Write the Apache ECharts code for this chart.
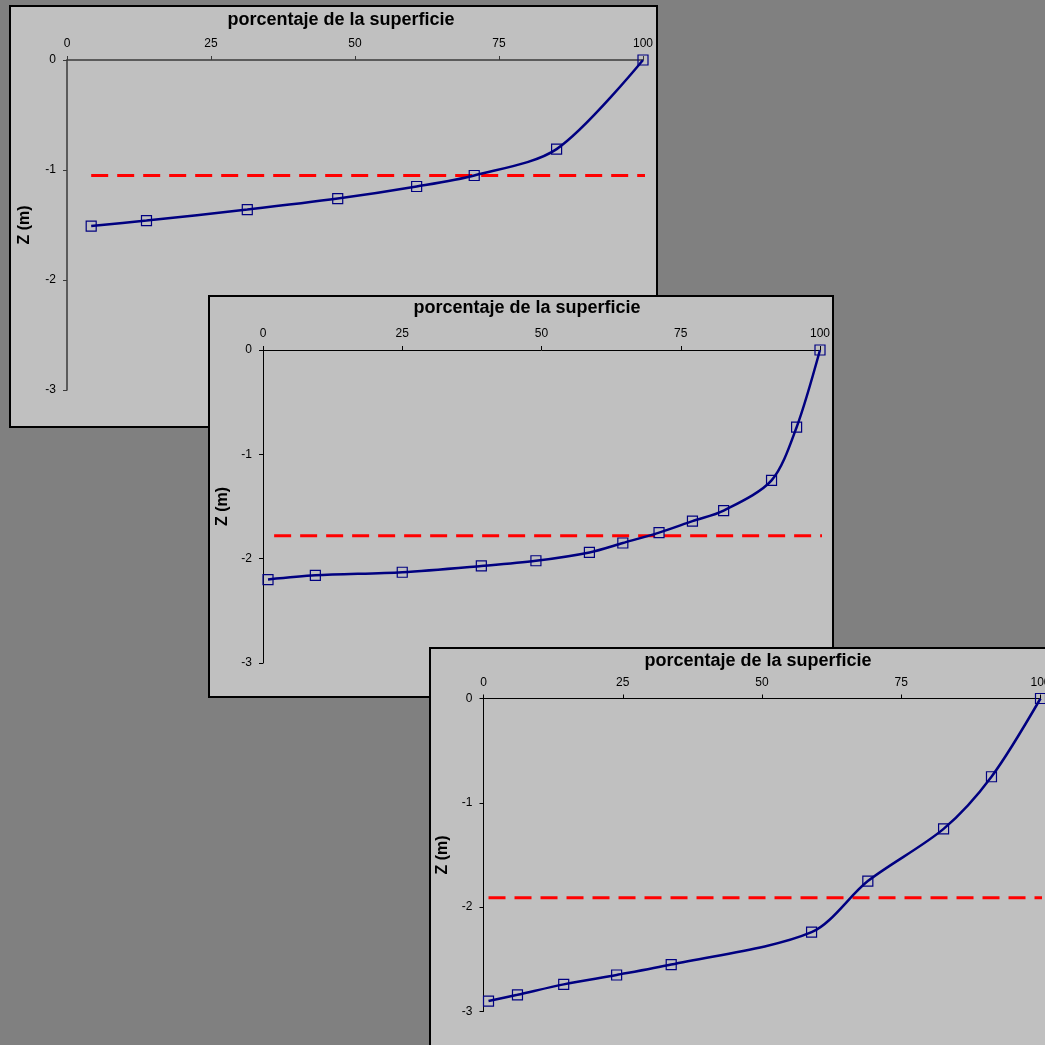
<!DOCTYPE html>
<html>
<head>
<meta charset="utf-8">
<script src="https://cdn.jsdelivr.net/npm/echarts@6/dist/echarts.min.js"></script>
<style>
html, body { margin: 0; padding: 0; width: 1045px; height: 1045px; overflow: hidden; background: #808080; }
.panel { position: absolute; box-sizing: border-box; border: 2px solid #000; background: #c0c0c0; }
.panel > div { width: 100%; height: 100%; }
</style>
</head>
<body>
<div class="panel" style="left:9px;top:5px;width:649px;height:423px"><div id="c1"></div></div>
<div class="panel" style="left:208px;top:295px;width:626px;height:403px"><div id="c2"></div></div>
<div class="panel" style="left:429px;top:647px;width:626px;height:403px"><div id="c3"></div></div>
<script>
// tick labels
const xTicks = [0, 25, 50, 75, 100];
const yTicks = [0, -1, -2, -3];

// panel 1 (top)
const pctA = [4.2, 13.8, 31.3, 47.0, 60.7, 70.7, 85.0, 100];
const zA = [-1.51, -1.46, -1.36, -1.26, -1.15, -1.05, -0.81, 0];
const refA = -1.05;
const refXA = [4.2, 100.5];

// panel 2 (middle)
const pctB = [0.9, 9.4, 25.0, 39.2, 49.0, 58.6, 64.6, 71.1, 77.1, 82.7, 91.3, 95.8, 100];
const zB = [-2.20, -2.16, -2.13, -2.07, -2.02, -1.94, -1.85, -1.75, -1.64, -1.54, -1.25, -0.74, 0];
const refB = -1.78;
const refXB = [2.0, 100.6];

// panel 3 (bottom)
const pctC = [0.9, 6.1, 14.4, 23.9, 33.7, 58.9, 69.0, 82.6, 91.2, 100];
const zC = [-2.90, -2.84, -2.74, -2.65, -2.55, -2.24, -1.75, -1.25, -0.75, 0];
const refC = -1.91;
const refXC = [0.9, 101];

const FONT = 'Liberation Sans, Arial, sans-serif';

function drawPanel(id, pct, z, ref, refX, o) {
  const chart = echarts.init(document.getElementById(id));
  const axisLine = { onZero: false, lineStyle: { color: o.axisColor, width: o.axisWidth } };
  chart.setOption({
    animation: false,
    backgroundColor: '#c0c0c0',
    textStyle: { fontFamily: FONT },
    graphic: [{
      type: 'text',
      x: o.titleX,
      y: o.titleY,
      style: {
        text: 'porcentaje de la superficie',
        font: 'bold 18px ' + FONT,
        fill: '#000',
        align: 'center', verticalAlign: 'middle',
        textAlign: 'center', textVerticalAlign: 'middle'
      }
    }],
    grid: { left: o.left, top: o.top, width: o.width, height: o.height, outerBoundsMode: 'none', containLabel: false },
    xAxis: {
      type: 'value', position: 'top',
      min: xTicks[0], max: xTicks[xTicks.length - 1], interval: 25,
      axisLine: axisLine,
      axisTick: { show: true, length: 4, lineStyle: { color: o.axisColor } },
      axisLabel: { margin: 10, fontSize: 12, color: '#000', showMaxLabel: true, showMinLabel: true },
      splitLine: { show: false }
    },
    yAxis: {
      type: 'value',
      min: yTicks[yTicks.length - 1], max: yTicks[0], interval: 1,
      name: 'Z (m)', nameLocation: 'middle', nameGap: o.nameGap,
      nameTextStyle: { fontWeight: 'bold', fontSize: 16, color: '#000', fontFamily: FONT },
      axisLine: axisLine,
      axisTick: { show: true, length: 4, lineStyle: { color: o.axisColor } },
      axisLabel: { margin: 11, fontSize: 12, color: '#000' },
      splitLine: { show: false }
    },
    series: [
      {
        type: 'line',
        data: [[refX[0], ref], [refX[1], ref]],
        symbol: 'none',
        clip: false,
        lineStyle: { color: '#ff0000', width: 3, type: [17, 9] },
        z: 2
      },
      {
        type: 'line',
        data: pct.map((p, i) => [p, z[i]]),
        smooth: 0.3,
        symbol: 'rect',
        symbolSize: 10,
        lineStyle: { color: '#000080', width: 2.5 },
        itemStyle: { color: 'rgba(0,0,0,0)', borderColor: '#000080', borderWidth: 1.2 },
        z: 3
      }
    ]
  });
}

drawPanel('c1', pctA, zA, refA, refXA, {
  left: 56, top: 53, width: 576, height: 330,
  titleX: 330, titleY: 13, nameGap: 34, axisColor: '#3a3a3a', axisWidth: 1.5
});
drawPanel('c2', pctB, zB, refB, refXB, {
  left: 53, top: 53, width: 557, height: 313,
  titleX: 317, titleY: 11, nameGap: 32, axisColor: '#000', axisWidth: 1
});
drawPanel('c3', pctC, zC, refC, refXC, {
  left: 52.5, top: 49.5, width: 557, height: 313,
  titleX: 327, titleY: 12, nameGap: 32, axisColor: '#000', axisWidth: 1
});
</script>
</body>
</html>
